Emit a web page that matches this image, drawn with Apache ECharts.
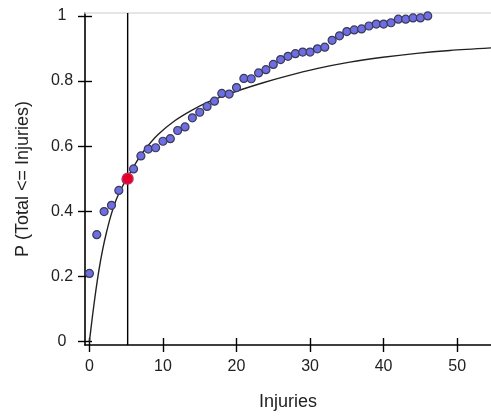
<!DOCTYPE html>
<html>
<head>
<meta charset="utf-8">
<script src="https://cdn.jsdelivr.net/npm/echarts@6/dist/echarts.min.js"></script>
<style>
  html, body { margin: 0; padding: 0; background: #fff; }
  #chart { width: 491px; height: 416px; }
</style>
</head>
<body>
<div id="chart"></div>
<script>
// Empirical cumulative proportion of totals at each injury count
var injuries = [0, 1, 2, 3, 4, 5, 6, 7, 8, 9, 10, 11, 12, 13, 14, 15, 16, 17, 18, 19,
  20, 21, 22, 23, 24, 25, 26, 27, 28, 29, 30, 31, 32, 33, 34, 35, 36, 37, 38, 39,
  40, 41, 42, 43, 44, 45, 46];
var cumProb = [0.209, 0.328, 0.399, 0.418, 0.464, 0.497, 0.530, 0.570, 0.591, 0.595,
  0.615, 0.623, 0.648, 0.659, 0.687, 0.704, 0.722, 0.738, 0.762, 0.760,
  0.780, 0.808, 0.807, 0.825, 0.835, 0.851, 0.866, 0.876, 0.884, 0.889,
  0.889, 0.899, 0.904, 0.925, 0.939, 0.952, 0.957, 0.960, 0.969, 0.975,
  0.975, 0.979, 0.990, 0.990, 0.994, 0.994, 1.0];

// Fitted cumulative curve
var fitX = [0, 0.4, 0.85, 1.3, 1.8, 2.3, 2.9, 3.6, 4.4, 5.2, 6.3, 7.5, 9.3, 11.6,
  13.9, 16.1, 18.4, 20.7, 23.5, 26.3, 30.9, 35.4, 39.9, 44.5, 49, 54.6];
var fitP = [0, 0.075, 0.152, 0.22, 0.282, 0.333, 0.385, 0.433, 0.472, 0.505, 0.548,
  0.588, 0.635, 0.678, 0.71, 0.735, 0.756, 0.774, 0.794, 0.812, 0.838, 0.858,
  0.873, 0.885, 0.894, 0.902];

// Median marker
var medianX = 5.2;
var medianP = 0.5;

// Axis ranges and tick values
var xMin = -0.6, xMax = 54.6;
var yMin = -0.011, yMax = 1.009;
var xTicks = [0, 10, 20, 30, 40, 50];
var yTicks = [0, 0.2, 0.4, 0.6, 0.8, 1];

var font = 'Liberation Sans, Arial, sans-serif';
var textColor = '#222';

var chart = echarts.init(document.getElementById('chart'), null, { renderer: 'canvas' });

function pairs(xs, ys) {
  return xs.map(function (x, i) { return [x, ys[i]]; });
}

var option = {
  animation: false,
  backgroundColor: '#fff',
  grid: { left: 85, right: 0, top: 13, bottom: 67, containLabel: false },
  xAxis: [
    {
      type: 'value', min: xMin, max: xMax, position: 'bottom',
      name: 'Injuries', nameLocation: 'middle', nameGap: 48,
      nameTextStyle: { fontFamily: font, fontSize: 18, color: textColor },
      axisLine: { show: true, onZero: false, lineStyle: { color: '#000', width: 1.6 } },
      axisTick: { show: true, customValues: xTicks, length: 7, lineStyle: { color: '#000', width: 1.4 } },
      axisLabel: { customValues: xTicks, fontFamily: font, fontSize: 16, color: textColor, margin: 14 },
      splitLine: { show: false }
    },
    {
      type: 'value', min: xMin, max: xMax, position: 'bottom',
      axisLine: { show: false, onZero: false },
      axisTick: { show: true, inside: true, customValues: xTicks, length: 7, lineStyle: { color: '#000', width: 1.4 } },
      axisLabel: { show: false },
      splitLine: { show: false }
    },
    {
      type: 'value', min: xMin, max: xMax, position: 'top',
      axisLine: { show: true, onZero: false, lineStyle: { color: '#ddd', width: 1.5 } },
      axisTick: { show: false },
      axisLabel: { show: false },
      splitLine: { show: false }
    }
  ],
  yAxis: [
    {
      type: 'value', min: yMin, max: yMax, position: 'left',
      name: 'P (Total <= Injuries)', nameLocation: 'middle', nameGap: 53, nameRotate: 90,
      nameTextStyle: { fontFamily: font, fontSize: 18, color: textColor },
      axisLine: { show: true, onZero: false, lineStyle: { color: '#000', width: 1.6 } },
      axisTick: { show: true, customValues: yTicks, length: 7, lineStyle: { color: '#000', width: 1.4 } },
      axisLabel: { customValues: yTicks, fontFamily: font, fontSize: 16, color: textColor, margin: 23, align: 'center' },
      splitLine: { show: false }
    },
    {
      type: 'value', min: yMin, max: yMax, position: 'left',
      axisLine: { show: false, onZero: false },
      axisTick: { show: true, inside: true, customValues: yTicks, length: 7, lineStyle: { color: '#000', width: 1.4 } },
      axisLabel: { show: false },
      splitLine: { show: false }
    }
  ],
  series: [
    {
      name: 'median',
      type: 'line',
      data: [[medianX, yMin], [medianX, yMax]],
      symbol: 'none',
      lineStyle: { color: '#000', width: 1.4 },
      z: 2
    },
    {
      name: 'fit',
      type: 'line',
      data: pairs(fitX, fitP),
      smooth: 0.3,
      symbol: 'none',
      lineStyle: { color: '#222', width: 1.4 },
      z: 3
    },
    {
      name: 'observed',
      type: 'scatter',
      data: pairs(injuries, cumProb),
      symbol: 'circle',
      symbolSize: 8,
      itemStyle: { color: '#6e6ee2', borderColor: '#3a3a58', borderWidth: 1.2, opacity: 1 },
      z: 4
    },
    {
      name: 'medianPoint',
      type: 'scatter',
      data: [[medianX, medianP]],
      symbol: 'circle',
      symbolSize: 11,
      itemStyle: { color: '#e4002b', borderColor: '#c0306a', borderWidth: 1.2, opacity: 1 },
      z: 5
    }
  ]
};

chart.setOption(option);
</script>
</body>
</html>
